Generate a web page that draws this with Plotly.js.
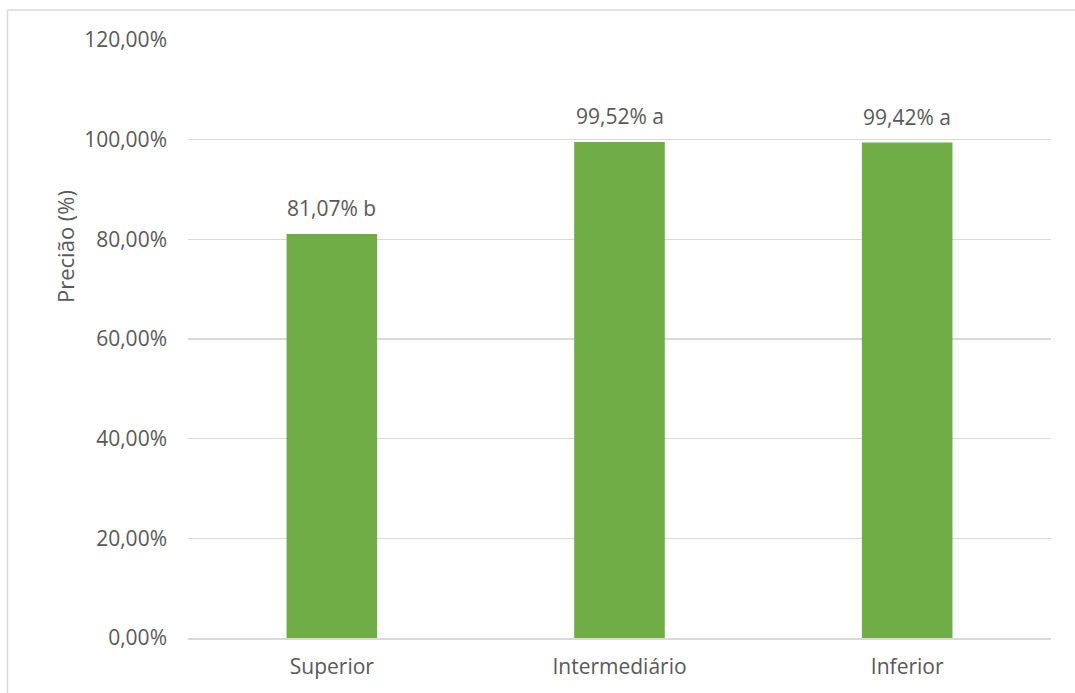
<!DOCTYPE html>
<html>
<head>
<meta charset="utf-8">
<script src="https://cdn.plot.ly/plotly-3.0.1.min.js"></script>
<style>
html,body{margin:0;padding:0;background:#fff;}
#chart{width:1075px;height:693px;}
</style>
</head>
<body>
<div id="chart"></div>
<script>
const categories = ["Superior", "Intermediário", "Inferior"];
const values = [81.07, 99.52, 99.42];
const letters = ["b", "a", "a"];
const yTicks = [0, 20, 40, 60, 80, 100, 120];

const textColor = "#595959";
const gridColor = "#D9D9D9";
const fontFamily = "'Open Sans', sans-serif";

const W = 1075, H = 693;
const m = {l: 188, r: 24, t: 40, b: 55};
const pw = W - m.l - m.r, ph = H - m.t - m.b;
const px = v => (v - m.l) / pw;
const py = v => (H - m.b - v) / ph;

const fmt = v => v.toFixed(2).replace(".", ",") + "%";
const labels = values.map((v, i) => fmt(v) + " " + letters[i]);
const yTickText = yTicks.map(fmt);

const trace = {
  type: "bar",
  x: categories,
  y: values,
  marker: {color: "#70AD47"},
  hoverinfo: "skip"
};

const annotations = categories.map((c, i) => ({
  x: c, y: values[i], xref: "x", yref: "y",
  text: labels[i], showarrow: false,
  yanchor: "bottom", yshift: 10,
  font: {family: fontFamily, size: 21, color: textColor}
}));

annotations.push({
  xref: "paper", yref: "paper",
  x: px(65), y: py(247),
  text: "Precião (%)", textangle: -90, showarrow: false,
  xanchor: "center", yanchor: "middle",
  font: {family: fontFamily, size: 22, color: textColor}
});

const layout = {
  width: W, height: H,
  margin: m,
  paper_bgcolor: "#fff",
  plot_bgcolor: "#fff",
  showlegend: false,
  bargap: 0.685,
  font: {family: fontFamily, size: 21, color: textColor},
  xaxis: {
    type: "category",
    showgrid: false,
    showline: true, linecolor: gridColor, linewidth: 1.5,
    ticks: "", ticklabelstandoff: 9,
    tickfont: {family: fontFamily, size: 21, color: textColor},
    fixedrange: true
  },
  yaxis: {
    range: [0, 120],
    tickmode: "array",
    tickvals: yTicks,
    ticktext: yTickText,
    showgrid: true, gridcolor: gridColor, gridwidth: 1.5,
    zeroline: false, showline: false,
    ticks: "", ticklabelstandoff: 20,
    tickfont: {family: fontFamily, size: 21, color: textColor},
    fixedrange: true
  },
  annotations: annotations,
  shapes: [
    {type: "line", xref: "paper", yref: "paper", x0: px(7.5), x1: px(W + 5), y0: py(10), y1: py(10),
     line: {color: gridColor, width: 1.5}},
    {type: "line", xref: "paper", yref: "paper", x0: px(7.5), x1: px(7.5), y0: py(10), y1: py(H + 5),
     line: {color: gridColor, width: 1.5}}
  ]
};

Plotly.newPlot("chart", [trace], layout, {displayModeBar: false, staticPlot: true});
</script>
</body>
</html>
